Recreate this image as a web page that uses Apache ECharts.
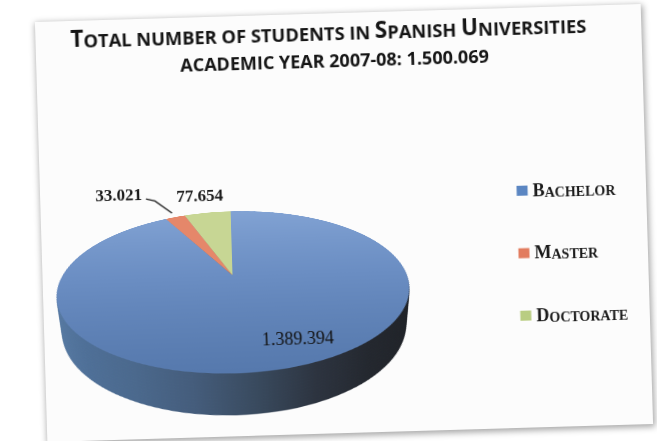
<!DOCTYPE html>
<html><head><meta charset="utf-8">
<script src="https://cdn.jsdelivr.net/npm/echarts@6/dist/echarts.min.js"></script>
<style>
html,body{margin:0;padding:0;background:#ffffff;width:657px;height:441px;overflow:hidden;}
#slide{position:absolute;left:41px;top:13px;width:606px;height:420px;background:#fcfcfc;transform:rotate(-1.7deg);transform-origin:50% 50%;box-shadow:1px 2px 6px 1px rgba(0,0,0,0.35);}
#scene{position:absolute;left:9.5px;top:78.7px;width:360px;height:360px;transform:perspective(735px) rotateX(63.3deg);transform-style:preserve-3d;z-index:1;}
.layer{position:absolute;left:0;top:0;width:360px;height:360px;}
#overlay{position:absolute;left:0;top:0;width:606px;height:420px;z-index:2;}
</style></head><body>
<div id="slide"><div id="scene"></div><div id="overlay"></div></div>
<script>
// ---- data ----
const categories = ['Bachelor', 'Master', 'Doctorate'];
const studentCounts = [1389394, 33021, 77654];
const titleLine1 = 'Total number of students in Spanish Universities';
const titleLine2Prefix = 'academic year 2007-08: ';

// ---- styles ----
const topColors = [
  new echarts.graphic.LinearGradient(0, 0, 0, 1, [
    {offset: 0, color: '#82a3d4'}, {offset: 0.5, color: '#6b8ec3'}, {offset: 1, color: '#5679ad'}]),
  '#e5876a', '#c7d694'];
const legendColors = ['#5b86c2', '#e27c5f', '#b9cd82'];
const sideGradient = () => new echarts.graphic.LinearGradient(0, 0, 1, 0, [
  {offset: 0, color: '#587ba4'}, {offset: 0.12, color: '#4f7098'}, {offset: 0.26, color: '#4b698d'},
  {offset: 0.4, color: '#455d7c'}, {offset: 0.55, color: '#394a5e'}, {offset: 0.69, color: '#2d3440'},
  {offset: 0.83, color: '#24282f'}, {offset: 1, color: '#1f2227'}]);

const R = 172.5, DEPTH = 41, STEP = 3;
const CX = 189.5, CY = 258.7; // pie centre inside slide
const labelOffsets = [[64, 67], [-111, -82], [-30, -79.5]];
const leaderOffsets = [[-83.7, -78.6], [-74.8, -76.3], [-58.1, -63.8]];

function fmt(n) { return String(n).replace(/\B(?=(\d{3})+(?!\d))/g, '.'); }
function smallCaps(str, big, small) {
  let out = '', cur = null, buf = '';
  for (const ch of str) {
    const st = (ch !== ch.toLowerCase()) ? big : small;
    if (st !== cur && buf) { out += '{' + cur + '|' + buf + '}'; buf = ''; }
    cur = st; buf += ch.toUpperCase();
  }
  if (buf) out += '{' + cur + '|' + buf + '}';
  return out;
}

// ---- 3D pie: stacked layers ----
function pieOption(isTop) {
  return {
    animation: false,
    series: [{
      type: 'pie', center: ['50%', '50%'], radius: R, startAngle: 90, clockwise: true,
      silent: true, label: {show: false}, labelLine: {show: false},
      itemStyle: {borderWidth: 0},
      data: categories.map((c, i) => ({
        name: c, value: studentCounts[i],
        itemStyle: {color: isTop ? topColors[i] : sideGradient()}
      }))
    }]
  };
}
const scene = document.getElementById('scene');
const depths = [];
for (let t = DEPTH; t > 0; t -= STEP) depths.push(t);
depths.push(0);
depths.forEach(t => {
  const d = document.createElement('div');
  d.className = 'layer';
  d.style.transform = 'translateZ(' + (-t) + 'px)';
  scene.appendChild(d);
  const ch = echarts.init(d, null, {renderer: 'canvas', devicePixelRatio: 2});
  ch.setOption(pieOption(t === 0));
});

// ---- overlay: titles, legend, labels ----
const total = studentCounts.reduce((a, b) => a + b, 0);
const overlay = echarts.init(document.getElementById('overlay'));
const TF = 'Open Sans';
overlay.setOption({
  animation: false,
  title: [{
    text: smallCaps(titleLine1, 'b', 's'),
    left: 35, top: 5, padding: 0,
    textStyle: {rich: {
      b: {fontFamily: TF, fontSize: 22.5, color: '#151515', verticalAlign: 'bottom', lineHeight: 26},
      s: {fontFamily: TF, fontSize: 18.3, color: '#151515', verticalAlign: 'bottom', lineHeight: 26}}}
  }, {
    text: smallCaps(titleLine2Prefix + fmt(total), 'b', 's'),
    left: 144, top: 37, padding: 0,
    textStyle: {rich: {
      b: {fontFamily: TF, fontSize: 18, color: '#151515', verticalAlign: 'bottom', lineHeight: 21},
      s: {fontFamily: TF, fontSize: 18, color: '#151515', verticalAlign: 'bottom', lineHeight: 21}}}
  }],
  legend: {
    orient: 'vertical', left: 476.5, top: 175, padding: 0,
    itemWidth: 11, itemHeight: 10, itemGap: 44.5, icon: 'rect', selectedMode: false,
    data: categories.map((c, i) => ({name: c, itemStyle: {color: legendColors[i]}})),
    formatter: name => smallCaps(name, 'b', 's'),
    textStyle: {rich: {
      b: {fontFamily: 'Liberation Serif', fontWeight: 'bold', fontSize: 18, color: '#1a1a1a', verticalAlign: 'bottom', lineHeight: 20},
      s: {fontFamily: 'Liberation Serif', fontWeight: 'bold', fontSize: 14, color: '#1a1a1a', verticalAlign: 'bottom', lineHeight: 20}}}
  },
  series: [{
    type: 'pie', center: [CX, CY], radius: 60, startAngle: 90, clockwise: true, silent: true,
    itemStyle: {color: 'rgba(0,0,0,0)', borderWidth: 0},
    label: {show: true, position: 'outside', formatter: p => fmt(p.value),
      fontFamily: 'Liberation Serif', fontWeight: 'bold', fontSize: 17, color: '#1a1a1a'},
    labelLine: {show: false, lineStyle: {color: '#222', width: 1.3}},
    labelLayout: p => {
      const i = p.dataIndex;
      const o = {x: CX + labelOffsets[i][0], y: CY + labelOffsets[i][1], align: 'center', verticalAlign: 'middle'};
      if (i === 1) o.labelLinePoints = leaderOffsets.map(q => [CX + q[0], CY + q[1]]);
      return o;
    },
    data: categories.map((c, i) => ({
      name: c, value: studentCounts[i],
      label: i === 0 ? {fontWeight: 'normal', fontSize: 18, color: '#111'} : {},
      labelLine: {show: i === 1}
    }))
  }]
});
</script>
</body></html>
